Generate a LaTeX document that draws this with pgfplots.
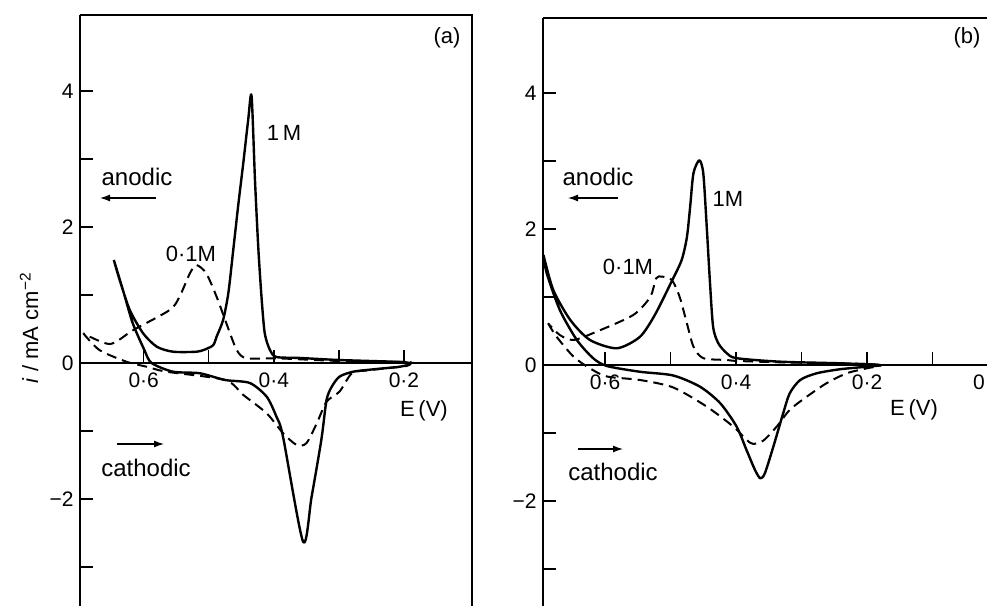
\documentclass[border=0pt]{standalone}
\usepackage{pgfplots}
\pgfplotsset{compat=1.18}
\usepackage{fontspec}
\setmainfont{Liberation Sans}
\usetikzlibrary{arrows.meta}

\pgfplotsset{
  cv/.style={
    scale only axis,
    x dir=reverse,
    axis x line=middle,
    axis y line=left,
    axis line style={-, line width=1.4pt},
    hide obscured x ticks=false,
    hide obscured y ticks=false,
    ytick={-3,-2,-1,0,1,2,3,4},
    yticklabels={,−2,,0,,2,,4},
    xtick align=inside, ytick align=inside,
    major tick length=13pt,
    tick style={line width=1.4pt, black},
    tick label style={font=\fontsize{21}{24}\selectfont},
    yticklabel style={xshift=-3pt},
    xticklabel style={yshift=-6pt},
  },
  solidc/.style={line width=2.4pt, black, smooth, tension=0.45, line join=round},
  dashc/.style={line width=2.0pt, black, smooth, tension=0.45, dash pattern=on 10pt off 6pt},
}

\begin{document}
\begin{tikzpicture}
% ---------------- panel (a) ----------------
\begin{axis}[cv, name=A, at={(80pt,0pt)}, anchor=south west,
  width=392pt, height=591pt,
  xmin=0.0954, xmax=0.698, ymin=-3.574, ymax=5.118,
  xtick={0.2,0.3,0.4,0.5,0.6},
  xticklabels={0·2,,0·4,,0·6}]
% 1 M (solid)
\addplot[solidc] coordinates {
(0.646,1.515) (0.632,1.074) (0.617,0.588) (0.599,0.19) (0.588,0.0)
(0.555,-0.128) (0.514,-0.151) (0.475,-0.25) (0.437,-0.294) (0.411,-0.496)
(0.396,-0.79) (0.386,-1.08) (0.355,-2.63) (0.342,-1.97) (0.327,-1.13)
(0.319,-0.544) (0.311,-0.349) (0.299,-0.2) (0.278,-0.128) (0.247,-0.093)
(0.206,-0.054) (0.19,-0.01)
(0.206,0.015) (0.30,0.044) (0.36,0.074) (0.396,0.088) (0.406,0.191)
(0.414,0.437) (0.419,0.975) (0.424,1.71) (0.429,2.69) (0.4343,3.93)
(0.4395,3.57) (0.447,2.94) (0.455,2.30) (0.463,1.61) (0.470,1.025)
(0.478,0.632) (0.488,0.387) (0.493,0.265) (0.504,0.206) (0.519,0.166)
(0.555,0.166) (0.58,0.24) (0.601,0.437) (0.6215,0.78) (0.637,1.22) (0.646,1.515)
};
% 0.1 M (dashed)
\addplot[dashc] coordinates {
(0.693,0.437) (0.668,0.19) (0.627,0.02) (0.596,-0.054) (0.565,-0.128)
(0.475,-0.25) (0.447,-0.47) (0.411,-0.74) (0.386,-1.03) (0.365,-1.206)
(0.350,-1.18) (0.334,-0.887) (0.319,-0.569) (0.299,-0.42) (0.28,-0.15)
(0.257,-0.11) (0.227,-0.078) (0.196,-0.044) (0.19,-0.01)
(0.196,0.015) (0.30,0.03) (0.396,0.069) (0.442,0.069) (0.457,0.19)
(0.473,0.584) (0.488,0.975) (0.504,1.32) (0.519,1.44) (0.529,1.32)
(0.545,0.975) (0.56,0.78) (0.616,0.485) (0.652,0.279) (0.693,0.437)
};
\end{axis}
\draw[line width=1.4pt] (A.north west) -- (A.north east) -- (A.south east);

% ---------------- panel (b) ----------------
\begin{axis}[cv, name=B, at={(543pt,0pt)}, anchor=south west,
  width=460pt, height=588pt,
  xmin=-0.0076, xmax=0.6947, ymin=-3.544, ymax=5.103,
  xtick={0.1,0.2,0.3,0.4,0.5,0.6},
  xticklabels={,0·2,,0·4,,0·6},
  extra x ticks={0}, extra x tick labels={0},
  extra x tick style={xticklabel style={xshift=-19pt}}]
% 1 M (solid)
\addplot[solidc] coordinates {
(0.694,1.618) (0.689,1.349) (0.669,0.809) (0.643,0.368) (0.618,0.099)
(0.597,-0.015) (0.547,-0.099) (0.496,-0.154) (0.455,-0.319) (0.424,-0.563)
(0.399,-0.907) (0.384,-1.25) (0.371,-1.544) (0.363,-1.666) (0.356,-1.593)
(0.343,-1.2) (0.328,-0.71) (0.318,-0.416) (0.302,-0.22) (0.277,-0.122)
(0.241,-0.062) (0.2005,-0.025) (0.18,0.0)
(0.241,0.025) (0.333,0.049) (0.399,0.1) (0.414,0.172) (0.427,0.319)
(0.435,0.563) (0.440,1.25) (0.445,2.08) (0.450,2.82) (0.456,3.01)
(0.465,2.82) (0.470,2.33) (0.475,1.88) (0.483,1.544) (0.498,1.235)
(0.524,0.735) (0.547,0.412) (0.582,0.246) (0.623,0.368) (0.653,0.662)
(0.679,1.103) (0.694,1.618)
};
% 0.1 M (dashed)
\addplot[dashc] coordinates {
(0.687,0.613) (0.674,0.416) (0.648,0.122) (0.623,-0.049) (0.597,-0.169)
(0.547,-0.22) (0.496,-0.33) (0.445,-0.61) (0.404,-0.907) (0.384,-1.10)
(0.374,-1.16) (0.358,-1.11) (0.338,-0.907) (0.318,-0.66) (0.292,-0.466)
(0.262,-0.269) (0.231,-0.122) (0.2005,-0.049) (0.18,-0.01)
(0.2005,0.015) (0.333,0.04) (0.399,0.06) (0.414,0.074) (0.450,0.1)
(0.465,0.27) (0.475,0.613) (0.486,1.0) (0.498,1.25) (0.513,1.30)
(0.522,1.275) (0.531,1.0) (0.557,0.735) (0.613,0.49) (0.648,0.368)
(0.669,0.441) (0.687,0.613)
};
\end{axis}
\draw[line width=1.4pt] (B.north west) -- (B.north east);

% ---------------- annotations ----------------
\node[rotate=90, font=\fontsize{22}{25}\selectfont] at (29pt,278pt) {\textit{i} / mA cm\textsuperscript{−2}};
\begin{scope}[font=\fontsize{22}{26}\selectfont]
\node at (447pt,568pt) {(a)};
\node at (284pt,473pt) {1\,M};
\node at (191pt,352pt) {0·1M};
\node at (424pt,195pt) {E\,(V)};
\node at (967pt,568pt) {(b)};
\node at (728pt,407pt) {1M};
\node at (628pt,339pt) {0·1M};
\node at (914pt,196pt) {E\,(V)};
\end{scope}
\begin{scope}[font=\fontsize{24}{28}\selectfont]
\node at (137pt,429pt) {anodic};
\node at (146pt,138pt) {cathodic};
\node at (598pt,429pt) {anodic};
\node at (613pt,134pt) {cathodic};
\end{scope}
\draw[line width=1.3pt, -{Latex[length=10pt,width=7pt]}] (156pt,408pt) -- (100pt,408pt);
\draw[line width=1.3pt, -{Latex[length=10pt,width=7pt]}] (117pt,162pt) -- (164pt,162pt);
\draw[line width=1.3pt, -{Latex[length=10pt,width=7pt]}] (618pt,408pt) -- (568pt,408pt);
\draw[line width=1.3pt, -{Latex[length=10pt,width=7pt]}] (578pt,157pt) -- (623pt,157pt);

\pgfresetboundingbox
\useasboundingbox (0pt,0pt) rectangle (987pt,606pt);
\end{tikzpicture}
\end{document}
